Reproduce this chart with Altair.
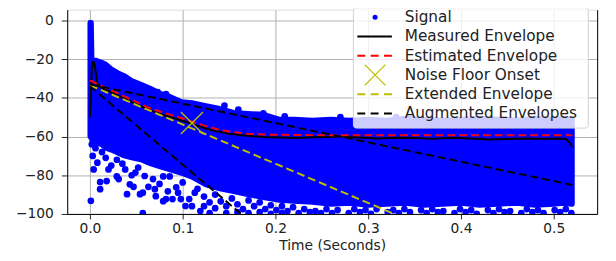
import altair as alt
import pandas as pd

BLUE = "#0000ff"
RED = "#ff0000"
YEL = "#bfbf00"
BLACK = "#000000"
FONT = "DejaVu Sans"

# ---- Signal: dense band (lower / upper edge) ----
band_t = [0.0000, 0.0015, 0.0022, 0.0060, 0.0120, 0.0170, 0.0230, 0.0300, 0.0370, 0.0450,
          0.0550, 0.0650, 0.0750, 0.0850, 0.0990, 0.1100, 0.1250, 0.1400, 0.1550, 0.1700,
          0.1870, 0.2040, 0.2200, 0.2400, 0.2600, 0.2800, 0.3000, 0.3200, 0.3400, 0.3600,
          0.3800, 0.4000, 0.4200, 0.4400, 0.4600, 0.4800, 0.5000, 0.5100, 0.5200]
band_up = [-1, -1, -20.5, -20.5, -21.5, -22.5, -25, -27, -28.5, -31,
           -33, -35, -37.5, -39, -42, -42.5, -44, -45.5, -47.5, -48,
           -48.5, -51, -51, -51.5, -51, -51.5, -51, -51.5, -50.5, -51,
           -51.5, -51, -50.5, -51, -51.5, -50.5, -51, -50.5, -51]
band_lo = [-60, -61, -62, -63, -64, -66, -67, -68.5, -70, -71,
           -72, -74, -75.5, -77, -79, -81, -85, -87, -88.5, -90,
           -91.5, -93, -93.5, -94, -95, -94.5, -95.5, -95, -94.5, -95.5,
           -95, -94.5, -95.5, -95, -94.5, -95.5, -95, -94.5, -95]

# ---- Signal: isolated points (upper-edge bumps and low outliers) ----
out_t = [0.073, 0.082, 0.145, 0.160, 0.187, 0.210, 0.270, 0.330,
         0.001, 0.011, 0.011, 0.004, 0.008, 0.018, 0.020, 0.017, 0.029, 0.031,
         0.038, 0.043, 0.047, 0.040, 0.054, 0.057, 0.049, 0.059, 0.068, 0.070,
         0.071, 0.084, 0.079, 0.089, 0.093, 0.100, 0.103, 0.107, 0.057, 0.029,
         0.079, 0.082, 0.086, 0.002, 0.003, 0.006, 0.013, 0.023, 0.035, 0.045,
         0.052, 0.063, 0.075, 0.095, 0.110, 0.113, 0.116, 0.119, 0.098,
         0.123, 0.123, 0.129, 0.129, 0.135, 0.135, 0.141, 0.147, 0.147, 0.153,
         0.159, 0.159, 0.165, 0.171, 0.171, 0.177, 0.183, 0.183, 0.189, 0.195,
         0.195, 0.201, 0.207, 0.207, 0.213, 0.219, 0.225, 0.231, 0.237,
         0.243, 0.249, 0.255, 0.261, 0.267, 0.279, 0.285, 0.291, 0.297, 0.303,
         0.309, 0.321, 0.327, 0.333, 0.339, 0.345, 0.357, 0.363, 0.369, 0.375,
         0.381, 0.393, 0.399, 0.405, 0.411, 0.417, 0.429, 0.435, 0.441, 0.447,
         0.453, 0.465, 0.471, 0.477, 0.483, 0.489, 0.501, 0.507, 0.513, 0.519]
out_y = [-37, -38, -44, -46, -48, -49.5, -50, -50,
         -93.2, -87.2, -83.5, -77, -73.5, -83, -77, -71, -80.6, -82,
         -77, -84.7, -86, -89.8, -89.8, -89, -78.6, -80.4, -82, -87.2,
         -90.8, -88.3, -80.6, -92.3, -86.2, -83.7, -95.9, -92.3, -99.5, -72,
         -93.4, -92.3, -80.6, -64, -70, -66, -68, -75, -74, -80,
         -76, -86, -84.5, -89, -96, -89, -87, -98.5, -92.3,
         -91, -96, -94, -99.5, -90, -97, -93.5, -96, -99.5, -92,
         -95, -99, -97.5, -93, -99.5, -96, -94, -99, -97.5, -95.5,
         -100, -98, -96, -99.5, -98.5, -96.5, -99.5, -97.5, -99,
         -98.5, -99.5, -97.5, -99.5, -98, -99.5, -97.5, -99, -98, -100,
         -97.5, -99, -98, -99.5, -97.5, -99, -98, -99.5, -97.5, -99,
         -98.5, -99.5, -97.5, -99, -98, -100, -98, -99.5, -97.5, -99,
         -98.5, -99.5, -97.5, -99, -98, -99.5, -98, -99, -97.5, -99.5]

# ---- Envelopes ----
meas_t = [0.000, 0.001, 0.002, 0.003, 0.004, 0.005, 0.006, 0.007, 0.008, 0.010,
          0.013, 0.020, 0.040, 0.063, 0.080, 0.093, 0.110, 0.125, 0.137, 0.150,
          0.169, 0.187, 0.205, 0.222, 0.240, 0.255, 0.270, 0.290, 0.310, 0.330,
          0.350, 0.370, 0.390, 0.410, 0.430, 0.450, 0.470, 0.490, 0.505, 0.513,
          0.517, 0.520]
meas_v = [-50, -38, -25, -21.5, -21.5, -23, -26, -30, -32.5, -34,
          -35, -36.5, -41, -46.2, -49, -50.8, -53.5, -55.8, -57.3, -58.6,
          -59.6, -60.2, -60.5, -60.7, -60.4, -60.2, -59.9, -60.5, -61, -60.6,
          -60.8, -61.2, -60.6, -61, -61.5, -61.3, -61, -61.2, -61, -61.3,
          -63, -65.5]

est_t = [0.0, 0.02, 0.04, 0.063, 0.08, 0.093, 0.11, 0.125, 0.137, 0.15, 0.169, 0.19, 0.22, 0.26, 0.52]
est_v = [-31, -35.4, -39.9, -45, -47.8, -49.6, -52.3, -54.6, -56.2, -57.4, -58.5, -59.0, -59.2, -59.3, -59.3]

ext_t = [0.0, 0.328]
ext_v = [-33.5, -100]

aug_grp = ["slow", "slow", "fast", "fast"]
aug_t = [0.0, 0.52, 0.0, 0.163]
aug_v = [-33, -85, -34, -100]

onset_t = [0.110]
onset_v = [-53]

legend_labels = ["Signal", "Measured Envelope", "Estimated Envelope",
                 "Noise Floor Onset", "Extended Envelope", "Augmented Envelopes"]

x_ticks = [0.0, 0.1, 0.2, 0.3, 0.4, 0.5]
y_ticks = [-100, -80, -60, -40, -20, 0]

# ---------------------------------------------------------------
XS = alt.Scale(domain=[-0.0245, 0.5468], nice=False, zero=False)
YS = alt.Scale(domain=[-100, 5.6], nice=False, zero=False)

x_axis = alt.Axis(values=x_ticks, format=".1f", title="Time (Seconds)",
                  labelFont=FONT, labelFontSize=14, labelColor="#222222",
                  titleFont=FONT, titleFontSize=14, titleFontWeight="normal", titleColor="#222222",
                  tickSize=5, tickColor="#222222", labelPadding=3, titlePadding=3,
                  domainColor=BLACK, domainWidth=1, gridColor="#b0b0b0", gridWidth=1)
y_axis = alt.Axis(values=y_ticks, format="d", title=None,
                  labelFont=FONT, labelFontSize=14, labelColor="#222222",
                  tickSize=6, tickColor="#222222", labelPadding=8,
                  domainColor=BLACK, domainWidth=1, gridColor="#b0b0b0", gridWidth=1)


def X(field="t"):
    return alt.X(f"{field}:Q", scale=XS, axis=x_axis)


band_df = pd.DataFrame({"t": band_t, "up": band_up, "lo": band_lo})
out_df = pd.DataFrame({"t": out_t, "v": out_y})
meas_df = pd.DataFrame({"t": meas_t, "v": meas_v})
est_df = pd.DataFrame({"t": est_t, "v": est_v})
ext_df = pd.DataFrame({"t": ext_t, "v": ext_v})
aug_df = pd.DataFrame({"t": aug_t, "v": aug_v, "g": aug_grp})
onset_df = pd.DataFrame({"t": onset_t, "v": onset_v})

XPATH = "M-1,-1L1,1M-1,1L1,-1"

band = alt.Chart(band_df).mark_area(color=BLUE, stroke=BLUE, strokeWidth=5, strokeJoin="round",
                                    opacity=1, clip=True).encode(
    x=X(), y=alt.Y("lo:Q", scale=YS, axis=y_axis), y2="up:Q")

pts = alt.Chart(out_df).mark_circle(size=46, color=BLUE, opacity=1, clip=True).encode(
    x=X(), y=alt.Y("v:Q", scale=YS, axis=None))

meas = alt.Chart(meas_df).mark_line(color=BLACK, strokeWidth=2, clip=True).encode(
    x=X(), y=alt.Y("v:Q", scale=YS, axis=None))

est = alt.Chart(est_df).mark_line(color=RED, strokeWidth=2, strokeDash=[8, 4], clip=True).encode(
    x=X(), y=alt.Y("v:Q", scale=YS, axis=None))

ext = alt.Chart(ext_df).mark_line(color=YEL, strokeWidth=2, strokeDash=[8, 4], clip=True).encode(
    x=X(), y=alt.Y("v:Q", scale=YS, axis=None))

aug = alt.Chart(aug_df).mark_line(color=BLACK, strokeWidth=2, strokeDash=[8, 4], clip=True).encode(
    x=X(), y=alt.Y("v:Q", scale=YS, axis=None), detail="g:N")

onset = alt.Chart(onset_df).mark_point(shape=XPATH, size=500, filled=False, color=YEL,
                                       strokeWidth=1.3, opacity=1).encode(
    x=X(), y=alt.Y("v:Q", scale=YS, axis=None))

# right border (matplotlib spine)
right = alt.Chart(est_df).mark_line(opacity=0).encode(
    x=X(), y=alt.Y("v:Q", scale=YS,
                   axis=alt.Axis(orient="right", labels=False, ticks=False, grid=False,
                                 title=None, domainColor=BLACK, domainWidth=1)))

# ---- legend (drawn manually, upper right) ----
one = pd.DataFrame({"k": [0]})
LX0, LX1 = 290, 528
row0, step = 7.7, 19.5
sym0, sym1, symc, txt = 294, 329, 312, 342

leg = [alt.Chart(one).mark_rect(fill="white", fillOpacity=0.8, stroke="#d0d0d0", strokeWidth=1,
                                cornerRadius=3).encode(
    x=alt.value(LX0), x2=alt.value(LX1), y=alt.value(-2), y2=alt.value(120))]

for i, lab in enumerate(legend_labels):
    ry = row0 + i * step
    leg.append(alt.Chart(pd.DataFrame({"label": [lab]})).mark_text(
        align="left", baseline="middle", font=FONT, fontSize=15.5, color="#222222").encode(
        x=alt.value(txt), y=alt.value(ry), text="label:N"))
    if lab == "Signal":
        leg.append(alt.Chart(one).mark_circle(size=26, color=BLUE, opacity=1).encode(
            x=alt.value(symc), y=alt.value(ry)))
    elif lab == "Noise Floor Onset":
        leg.append(alt.Chart(one).mark_point(shape=XPATH, size=440, filled=False, color=YEL,
                                             strokeWidth=1.3, opacity=1).encode(
            x=alt.value(symc), y=alt.value(ry)))
    else:
        col = {"Measured Envelope": BLACK, "Estimated Envelope": RED,
               "Extended Envelope": YEL, "Augmented Envelopes": BLACK}[lab]
        kw = {} if lab == "Measured Envelope" else {"strokeDash": [8, 5.5]}
        leg.append(alt.Chart(one).mark_rule(color=col, strokeWidth=2, **kw).encode(
            x=alt.value(sym0), x2=alt.value(sym1), y=alt.value(ry)))

chart = alt.layer(band, pts, meas, est, ext, aug, onset, right, *leg).resolve_axis(
    y="independent"
).properties(
    width=537, height=207,
    autosize=alt.AutoSizeParams(type="none"),
    padding={"left": 60, "top": 0, "right": 11, "bottom": 46},
).configure_view(stroke=None).configure(background="white")

chart.save("out.html", embed_options={"renderer": "svg", "actions": False})
